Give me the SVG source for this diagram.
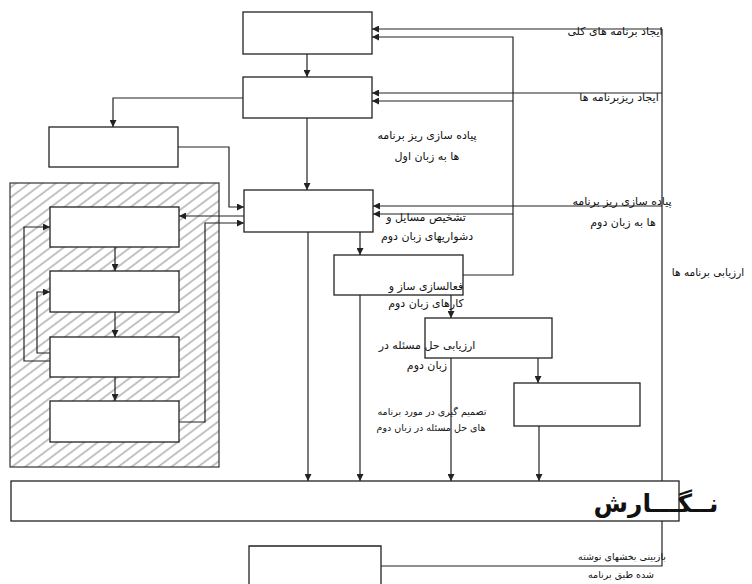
<svg xmlns="http://www.w3.org/2000/svg" width="752" height="584" viewBox="0 0 752 584">
<style>
.bx{fill:#fff;stroke:#222;stroke-width:1.3}
.cn{fill:none;stroke:#222;stroke-width:1.2}
.t{font-family:"DejaVu Sans","Noto Sans",sans-serif;font-size:11px;fill:#111;text-anchor:middle}
.s{font-size:9.5px}
.big{font-size:25px;font-weight:bold}
</style>
<defs>
<marker id="ah" viewBox="0 0 8 8" refX="8" refY="4" markerWidth="8" markerHeight="7" orient="auto" markerUnits="userSpaceOnUse"><path d="M0,0 L8,4 L0,8 z" fill="#222"/></marker>
<pattern id="hatch" width="10" height="8" patternUnits="userSpaceOnUse" patternTransform="rotate(-37)"><line x1="0" y1="4" x2="10" y2="4" stroke="#666" stroke-width="0.8"/></pattern>
</defs>
<rect width="752" height="584" fill="#fff"/>
<g id="hatched-area"><rect x="10" y="183" width="209" height="284" fill="url(#hatch)" stroke="#333" stroke-width="1.2"/></g>
<g id="connectors">
<path class="cn" d="M662,29 V566 H381"/>
<path class="cn" marker-end="url(#ah)" d="M662,29 H372"/>
<path class="cn" marker-end="url(#ah)" d="M662,93 H372"/>
<path class="cn" marker-end="url(#ah)" d="M662,206 H373"/>
<path class="cn" marker-end="url(#ah)" d="M463,275 H513 V37 H372"/>
<path class="cn" marker-end="url(#ah)" d="M513,101 H372"/>
<path class="cn" marker-end="url(#ah)" d="M513,214 H373"/>
<path class="cn" marker-end="url(#ah)" d="M307,54 V77"/>
<path class="cn" marker-end="url(#ah)" d="M307,118 V190"/>
<path class="cn" marker-end="url(#ah)" d="M243,98 H113 V127"/>
<path class="cn" marker-end="url(#ah)" d="M178,147 H229 V207 H244"/>
<path class="cn" marker-end="url(#ah)" d="M244,216 H179"/>
<path class="cn" marker-end="url(#ah)" d="M179,422 H205 V223 H244"/>
<path class="cn" marker-end="url(#ah)" d="M115,247 V271"/>
<path class="cn" marker-end="url(#ah)" d="M115,312 V337"/>
<path class="cn" marker-end="url(#ah)" d="M115,377 V401"/>
<path class="cn" marker-end="url(#ah)" d="M50,361 H24 V227 H50"/>
<path class="cn" marker-end="url(#ah)" d="M50,353 H37 V292 H50"/>
<path class="cn" marker-end="url(#ah)" d="M360,232 V255"/>
<path class="cn" marker-end="url(#ah)" d="M451,295 V318"/>
<path class="cn" marker-end="url(#ah)" d="M538,358 V383"/>
<path class="cn" marker-end="url(#ah)" d="M308,232 V481"/>
<path class="cn" marker-end="url(#ah)" d="M360,295 V481"/>
<path class="cn" marker-end="url(#ah)" d="M451,358 V481"/>
<path class="cn" marker-end="url(#ah)" d="M539,426 V481"/>
</g>
<g id="node-A"><rect class="bx" x="243" y="12" width="129" height="42"/></g>
<g id="node-B"><rect class="bx" x="243" y="77" width="129" height="41"/></g>
<g id="node-C"><rect class="bx" x="244" y="190" width="129" height="42"/></g>
<g id="node-D"><rect class="bx" x="334" y="255" width="129" height="40"/></g>
<g id="node-E"><rect class="bx" x="49" y="127" width="129" height="40"/></g>
<g id="node-F"><rect class="bx" x="50" y="207" width="129" height="40"/></g>
<g id="node-G"><rect class="bx" x="50" y="271" width="129" height="41"/></g>
<g id="node-H"><rect class="bx" x="50" y="337" width="129" height="40"/></g>
<g id="node-I"><rect class="bx" x="50" y="401" width="129" height="41"/></g>
<g id="node-J"><rect class="bx" x="425" y="318" width="127" height="40"/></g>
<g id="node-K"><rect class="bx" x="514" y="383" width="126" height="43"/></g>
<g id="node-report"><rect class="bx" x="11" y="481" width="668" height="40"/>
<text class="t big" x="656" y="512">نــگـــارش</text></g>
<g id="node-bottom"><path class="bx" d="M249,590 V546 H381 V590"/></g>
<g id="labels">
<text class="t" x="615" y="35">ایجاد برنامه های کلی</text>
<text class="t" x="619" y="101">ایجاد ریزبرنامه ها</text>
<text class="t" x="427" y="139">پیاده سازی ریز برنامه</text>
<text class="t" x="427" y="160">ها به زبان اول</text>
<text class="t" x="622" y="205">پیاده سازی ریز برنامه</text>
<text class="t" x="623" y="226">ها به زبان دوم</text>
<text class="t" x="426" y="221">تشخیص مسایل و</text>
<text class="t" x="427" y="240">دشواریهای زبان دوم</text>
<text class="t" x="426" y="290">فعالسازی ساز و</text>
<text class="t" x="426" y="307">کارهای زبان دوم</text>
<text class="t" style="font-size:10.5px" x="708" y="276">ارزیابی برنامه ها</text>
<text class="t" x="427" y="349">ارزیابی حل مسئله در</text>
<text class="t" x="427" y="369">زبان دوم</text>
<text class="t s" x="432" y="415">تصمیم گیری در مورد برنامه</text>
<text class="t s" x="431" y="431">های حل مسئله در زبان دوم</text>
<text class="t s" x="622" y="560">بازبینی بخشهای نوشته</text>
<text class="t s" x="621" y="578">شده طبق برنامه</text>
</g>
</svg>
